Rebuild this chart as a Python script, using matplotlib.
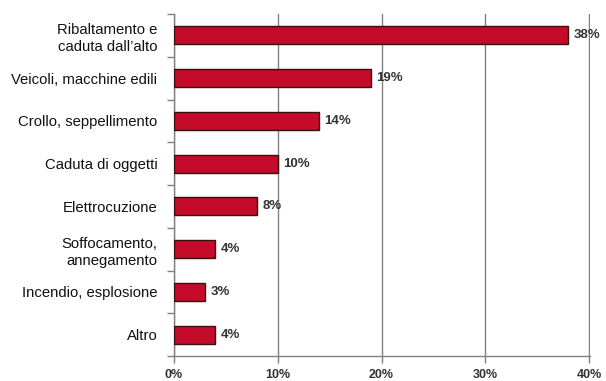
import matplotlib
matplotlib.use("Agg")
import matplotlib.pyplot as plt
import numpy as np

categories = [
    "Ribaltamento e\ncaduta dall\u2019alto",
    "Veicoli, macchine edili",
    "Crollo, seppellimento",
    "Caduta di oggetti",
    "Elettrocuzione",
    "Soffocamento,\nannegamento",
    "Incendio, esplosione",
    "Altro",
]
values = [38, 19, 14, 10, 8, 4, 3, 4]
x_ticks = [0, 10, 20, 30, 40]

fig = plt.figure(figsize=(6.06, 3.81), dpi=100)
ax = fig.add_axes([0.287, 0.0656, 0.687, 0.8976])

y = np.arange(len(categories))
bars = ax.barh(y, values, height=0.42, color="#C40C2A",
               edgecolor="#3a1010", linewidth=1.0, zorder=3)

ax.set_ylim(len(categories) - 0.5, -0.5)
ax.set_xlim(0, 40.1)

# category labels
ax.set_yticks(y)
ax.set_yticklabels(categories, fontfamily="Liberation Sans",
                   fontsize=10.7, color="#111111", linespacing=1.3)
ax.tick_params(axis="y", which="major", length=0, pad=12)
ax.set_yticks(np.arange(len(categories) + 1) - 0.5, minor=True)
ax.tick_params(axis="y", which="minor", length=5, color="#808080", width=1)

ax.set_xticks(x_ticks)
ax.set_xticklabels([f"{t}%" for t in x_ticks], fontfamily="Liberation Sans",
                   fontweight="bold", fontsize=9, color="#333333")
ax.tick_params(axis="x", length=5, color="#808080", width=1, pad=4)

ax.grid(axis="x", color="#808080", linewidth=1, zorder=0)
for side in ["top", "right"]:
    ax.spines[side].set_visible(False)
for side in ["left", "bottom"]:
    ax.spines[side].set_color("#808080")
    ax.spines[side].set_linewidth(1)

for bar, v in zip(bars, values):
    ax.text(bar.get_width() + 0.5, bar.get_y() + bar.get_height() / 2,
            f"{v}%", va="center", ha="left", fontfamily="Liberation Sans",
            fontweight="bold", fontsize=9.5, color="#333333", zorder=4)

fig.savefig("out.png", dpi=100)
